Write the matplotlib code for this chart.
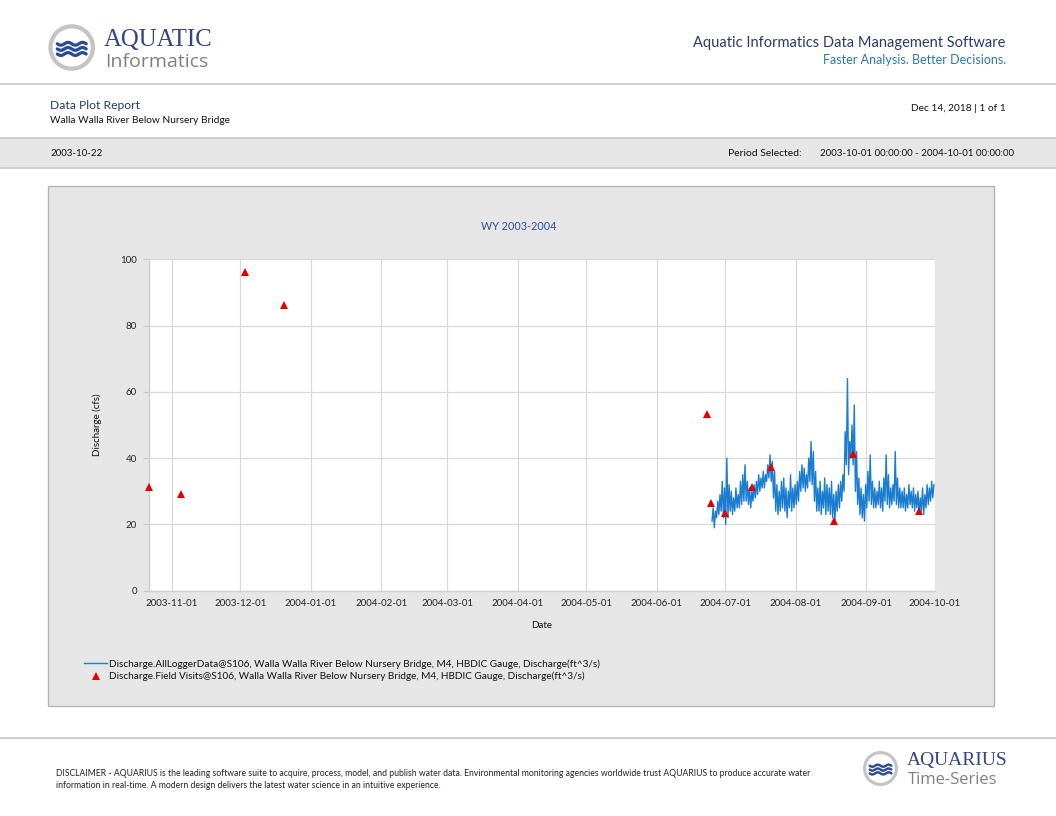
import matplotlib
matplotlib.use('Agg')
import matplotlib.pyplot as plt
import matplotlib.dates as mdates
from matplotlib.patches import Rectangle, Circle
from matplotlib.lines import Line2D
import numpy as np
import pandas as pd

plt.rcParams['font.family'] = ['Lato', 'DejaVu Sans']

# ---------------- data ----------------
visit_dates = ['2003-10-22', '2003-11-05', '2003-12-03', '2003-12-20',
               '2004-06-23', '2004-06-25', '2004-07-01', '2004-07-13',
               '2004-07-21', '2004-08-18', '2004-08-26', '2004-09-24']
visit_values = [31.3, 29.2, 96.2, 86.3, 53.4, 26.4, 23.5, 31.2, 37.3, 21.1, 41.3, 24.1]

logger_start = '2004-06-25'
logger_daily_max = [25, 24, 27, 29, 33, 31, 40, 32, 30, 28,
                    31, 29, 33, 35, 38, 33, 31, 30, 32, 33,
                    35, 34, 36, 35, 38, 41, 39, 36, 32, 30,
                    33, 34, 31, 30, 35, 31, 32, 33, 36, 38,
                    37, 35, 40, 45, 42, 36, 31, 33, 30, 34,
                    32, 31, 33, 29, 30, 32, 33, 35, 48, 64,
                    45, 50, 56, 42, 34, 31, 29, 32, 36, 41,
                    33, 31, 30, 33, 31, 34, 41, 35, 31, 32,
                    42, 34, 31, 30, 31, 29, 32, 30, 31, 29,
                    30, 28, 31, 29, 32, 31, 33, 32]
logger_daily_min = [21, 19, 22, 23, 24, 22, 20, 22, 24, 23,
                    24, 25, 25, 26, 27, 27, 26, 25, 27, 28,
                    29, 30, 31, 31, 33, 34, 33, 28, 24, 23,
                    24, 25, 24, 22, 25, 24, 25, 26, 27, 30,
                    31, 30, 31, 33, 32, 27, 24, 24, 23, 25,
                    23, 24, 23, 22, 21, 24, 25, 27, 30, 38,
                    35, 40, 38, 30, 26, 23, 22, 21, 25, 27,
                    26, 25, 25, 26, 25, 24, 27, 26, 25, 26,
                    27, 26, 25, 25, 25, 24, 25, 26, 25, 24,
                    25, 23, 24, 23, 25, 26, 27, 28]

x_ticks = ['2003-11-01', '2003-12-01', '2004-01-01', '2004-02-01', '2004-03-01',
           '2004-04-01', '2004-05-01', '2004-06-01', '2004-07-01', '2004-08-01',
           '2004-09-01', '2004-10-01']
y_ticks = [0, 20, 40, 60, 80, 100]
x_range = ['2003-10-22', '2004-10-01']

label_logger = 'Discharge.AllLoggerData@S106, Walla Walla River Below Nursery Bridge, M4, HBDIC Gauge, Discharge(ft^3/s)'
label_visits = 'Discharge.Field Visits@S106, Walla Walla River Below Nursery Bridge, M4, HBDIC Gauge, Discharge(ft^3/s)'

# build logger series (min in the morning, max in the evening of each day)
day0 = pd.Timestamp(logger_start)
logger_times = []
logger_values = []
for i, (lo, hi) in enumerate(zip(logger_daily_min, logger_daily_max)):
    logger_times.append(day0 + pd.Timedelta(days=i, hours=6))
    logger_values.append(lo)
    logger_times.append(day0 + pd.Timedelta(days=i, hours=18))
    logger_values.append(hi)

# ---------------- figure ----------------
W, H = 1056, 816
fig = plt.figure(figsize=(W / 100, H / 100), dpi=100)
fig.patch.set_facecolor('white')

bg = fig.add_axes([0, 0, 1, 1], zorder=0)
bg.set_xlim(0, W)
bg.set_ylim(H, 0)
bg.axis('off')

NAVY = '#2b3a6b'
LOGO_BLUE = '#34448a'
GREY_TXT = '#808080'
LINE_GREY = '#c8c8c8'


def draw_logo(cx, cy, r, big, small, tx, y1, y2, s1, s2):
    bg.add_patch(Circle((cx, cy), r, facecolor='#c4c4c4', edgecolor='none'))
    bg.add_patch(Circle((cx, cy), r * 0.82, facecolor='white', edgecolor='none'))
    xs = np.linspace(cx - r * 0.62, cx + r * 0.62, 80)
    for k, off in enumerate([-0.22, 0.0, 0.22]):
        ys = cy + r * (off + 0.06) + r * 0.06 * np.sin((xs - xs[0]) / (xs[-1] - xs[0]) * 4 * np.pi)
        bg.plot(xs, ys, color='#2a4a9a', lw=r * 0.1, solid_capstyle='round')
    bg.text(tx, y1, big, family=['Liberation Serif', 'DejaVu Serif'], fontsize=s1,
            color=LOGO_BLUE, ha='left', va='baseline')
    bg.text(tx + 1, y2, small, family=['Open Sans', 'DejaVu Sans'], fontsize=s2,
            color=GREY_TXT, ha='left', va='baseline')


# header
draw_logo(71.7, 47.5, 23.3, 'AQUATIC', 'Informatics', 104, 45.5, 67, 17.8, 14)
bg.text(1005, 46.5, 'Aquatic Informatics Data Management Software', fontsize=10.5,
        color=NAVY, ha='right', va='baseline')
bg.text(1006, 64, 'Faster Analysis. Better Decisions.', fontsize=9.0,
        color='#2b78b0', ha='right', va='baseline')
bg.plot([0, W], [84.3, 84.3], color=LINE_GREY, lw=1.2)

bg.text(50, 109, 'Data Plot Report', fontsize=8.7, color='#203c70', ha='left', va='baseline')
bg.text(50, 122.7, 'Walla Walla River Below Nursery Bridge', fontsize=7.3, color='#111111',
        ha='left', va='baseline')
bg.text(1006, 110.7, 'Dec 14, 2018 | 1 of 1', fontsize=7.3, color='#111111',
        ha='right', va='baseline')

# grey band
bg.add_patch(Rectangle((0, 138.3), W, 30, facecolor='#e6e6e6', edgecolor='none'))
bg.plot([0, W], [138.3, 138.3], color=LINE_GREY, lw=1.2)
bg.plot([0, W], [168.3, 168.3], color=LINE_GREY, lw=1.2)
bg.text(50.5, 156.5, '2003-10-22', fontsize=7.0, color='#111111', ha='left', va='baseline')
bg.text(728, 156.5, 'Period Selected:', fontsize=7.5, color='#111111', ha='left', va='baseline')
bg.text(1014, 156.5, '2003-10-01 00:00:00 - 2004-10-01 00:00:00', fontsize=7.0,
        color='#111111', ha='right', va='baseline')

# chart panel
bg.add_patch(Rectangle((48.3, 186), 945.5, 520, facecolor='#e6e6e6', edgecolor='#b4b4b4', lw=1))
bg.text(519, 230, 'WY 2003-2004', fontsize=7.8, color='#2d4f9e', ha='center', va='baseline')

# footer
bg.plot([0, W], [738.3, 738.3], color=LINE_GREY, lw=1.2)
bg.text(56, 776.5, 'DISCLAIMER - AQUARIUS is the leading software suite to acquire, process, model, and publish '
        'water data. Environmental monitoring agencies worldwide trust AQUARIUS to produce accurate water',
        fontsize=6.25, color='#222222', ha='left', va='baseline')
bg.text(56, 788, 'information in real-time. A modern design delivers the latest water science in an '
        'intuitive experience.', fontsize=6.25, color='#222222', ha='left', va='baseline')
draw_logo(880.5, 768.5, 17.5, 'AQUARIUS', 'Time-Series', 907, 765, 784, 14, 12)

# ---------------- chart axes ----------------
axl, axr, axt, axb = 149.3, 934.5, 259.3, 590.7
ax = fig.add_axes([axl / W, 1 - axb / H, (axr - axl) / W, (axb - axt) / H], zorder=2)
ax.set_facecolor('white')

ax.plot(logger_times, logger_values, color='#1b7dd0', lw=1.0, zorder=3)
ax.plot(pd.to_datetime(visit_dates), visit_values, linestyle='none', marker='^',
        markersize=5.2, color='#e60000', markeredgewidth=0, zorder=4, clip_on=False)

ax.set_xlim(pd.Timestamp(x_range[0]), pd.Timestamp(x_range[1]))
ax.set_ylim(0, 100)
ax.set_xticks(pd.to_datetime(x_ticks))
ax.xaxis.set_major_formatter(mdates.DateFormatter('%Y-%m-%d'))
ax.set_yticks(y_ticks)

ax.grid(True, color='#d9d9d9', lw=0.9)
ax.set_axisbelow(True)
for s in ['top', 'right']:
    ax.spines[s].set_visible(False)
for s in ['left', 'bottom']:
    ax.spines[s].set_color('#d0d0d0')
    ax.spines[s].set_linewidth(1.0)
ax.tick_params(axis='x', length=0, pad=6, labelsize=7, labelcolor='#222222')
ax.tick_params(axis='y', length=4, width=0.8, color='#c8c8c8', pad=5, labelsize=7,
               labelcolor='#222222')

ax.set_xlabel('Date', fontsize=7, color='#111111', labelpad=9)
ax.set_ylabel('Discharge (cfs)', fontsize=7, color='#111111', labelpad=13)

handles = [Line2D([], [], color='#1b7dd0', lw=1.0),
           Line2D([], [], linestyle='none', marker='^', markersize=5.2, color='#e60000',
                  markeredgewidth=0)]
fig.legend(handles, [label_logger, label_visits], loc='upper left',
           bbox_to_anchor=(84 / W, 1 - 659 / H), frameon=False, fontsize=7.2,
           handlelength=2.3, handletextpad=0.2, labelspacing=0.3, borderpad=0,
           borderaxespad=0, labelcolor='#111111')

fig.savefig('out.png', dpi=100)
